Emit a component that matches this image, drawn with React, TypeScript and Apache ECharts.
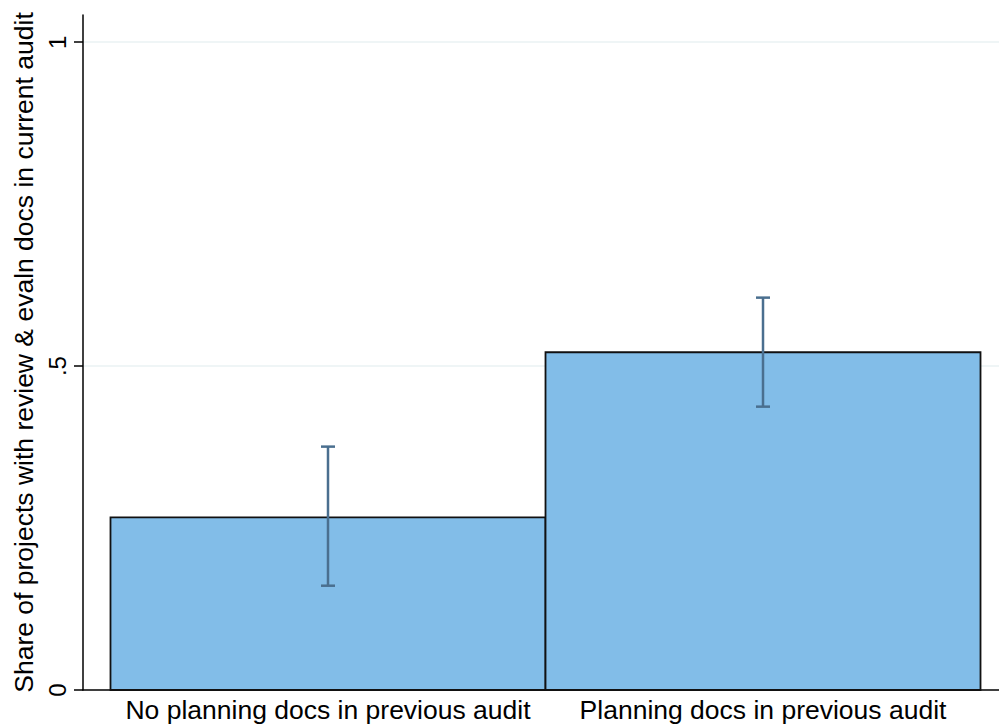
import React, { useEffect, useRef } from "react";
import * as echarts from "echarts";

const categories = ["No planning docs in previous audit", "Planning docs in previous audit"];
const positions = [1, 2];
const shares = [0.2666, 0.5214];
const ciLow = [0.161, 0.4374];
const ciHigh = [0.3757, 0.6057];
const yTicks = [0, 0.5, 1];
const yTickLabels = ["0", ".5", "1"];
const yTitle = "Share of projects with review & evaln docs in current audit";

const FONT = "'Liberation Sans', Arial, Helvetica, sans-serif";

export default function App() {
  const ref = useRef<HTMLDivElement>(null);
  useEffect(() => {
    if (!ref.current) return;
    const chart = echarts.init(ref.current, null, { renderer: "svg" });
    const barData = positions.map((p, i) => [p, shares[i]]);
    const errData = positions.map((p, i) => [p, ciLow[i], ciHigh[i]]);
    chart.setOption({
      animation: false,
      backgroundColor: "#ffffff",
      grid: { left: 83, right: 0, top: 15, bottom: 36 },
      xAxis: {
        type: "value",
        min: 0.4368,
        max: 2.5425,
        axisLine: { show: true, lineStyle: { color: "#000000", width: 1.5 } },
        axisTick: { show: false },
        splitLine: { show: false },
        axisLabel: {
          customValues: positions,
          formatter: (v: number) => categories[Math.round(v) - 1] ?? "",
          color: "#000000",
          fontSize: 26.5,
          fontFamily: FONT,
          margin: 6,
        },
      },
      yAxis: {
        type: "value",
        min: 0,
        max: 1.042,
        name: yTitle,
        nameLocation: "middle",
        nameRotate: 90,
        nameGap: 43,
        nameTextStyle: { color: "#000000", fontSize: 26.5, fontFamily: FONT },
        axisLine: { show: true, lineStyle: { color: "#000000", width: 1.5 } },
        axisTick: { show: true, customValues: yTicks, length: 9, lineStyle: { color: "#000000", width: 1.5 } },
        axisLabel: {
          customValues: yTicks,
          rotate: 90,
          formatter: (v: number) => {
            const idx = yTicks.findIndex((t) => Math.abs(t - v) < 1e-9);
            return idx >= 0 ? yTickLabels[idx] : "";
          },
          color: "#000000",
          fontSize: 24,
          fontFamily: FONT,
          margin: 14,
        },
        splitLine: {
          show: true,
          showMinLine: false,
          showMaxLine: true,
          lineStyle: { color: "#eaf2f3", width: 1.5 },
        },
      },
      series: [
        {
          type: "custom",
          data: barData,
          z: 2,
          renderItem: (params: any, api: any) => {
            const x = api.value(0);
            const y = api.value(1);
            const p0 = api.coord([x - 0.5, 0]);
            const p1 = api.coord([x + 0.5, y]);
            return {
              type: "rect",
              shape: { x: p0[0], y: p1[1], width: p1[0] - p0[0], height: p0[1] - p1[1] },
              style: { fill: "#82bde8", stroke: "#111111", lineWidth: 1.8 },
            };
          },
        },
        {
          type: "custom",
          data: errData,
          z: 3,
          renderItem: (params: any, api: any) => {
            const x = api.value(0);
            const lo = api.coord([x, api.value(1)]);
            const hi = api.coord([x, api.value(2)]);
            const half = 7;
            const style = { stroke: "#4a6f8f", lineWidth: 2.5 };
            return {
              type: "group",
              children: [
                { type: "line", shape: { x1: lo[0], y1: lo[1], x2: hi[0], y2: hi[1] }, style },
                { type: "line", shape: { x1: lo[0] - half, y1: lo[1], x2: lo[0] + half, y2: lo[1] }, style },
                { type: "line", shape: { x1: hi[0] - half, y1: hi[1], x2: hi[0] + half, y2: hi[1] }, style },
              ],
            };
          },
        },
      ],
    });
    return () => chart.dispose();
  }, []);
  return (
    <div
      ref={ref}
      style={{ position: "absolute", left: 0, top: 0, width: 999, height: 726, background: "#fff" }}
    />
  );
}
